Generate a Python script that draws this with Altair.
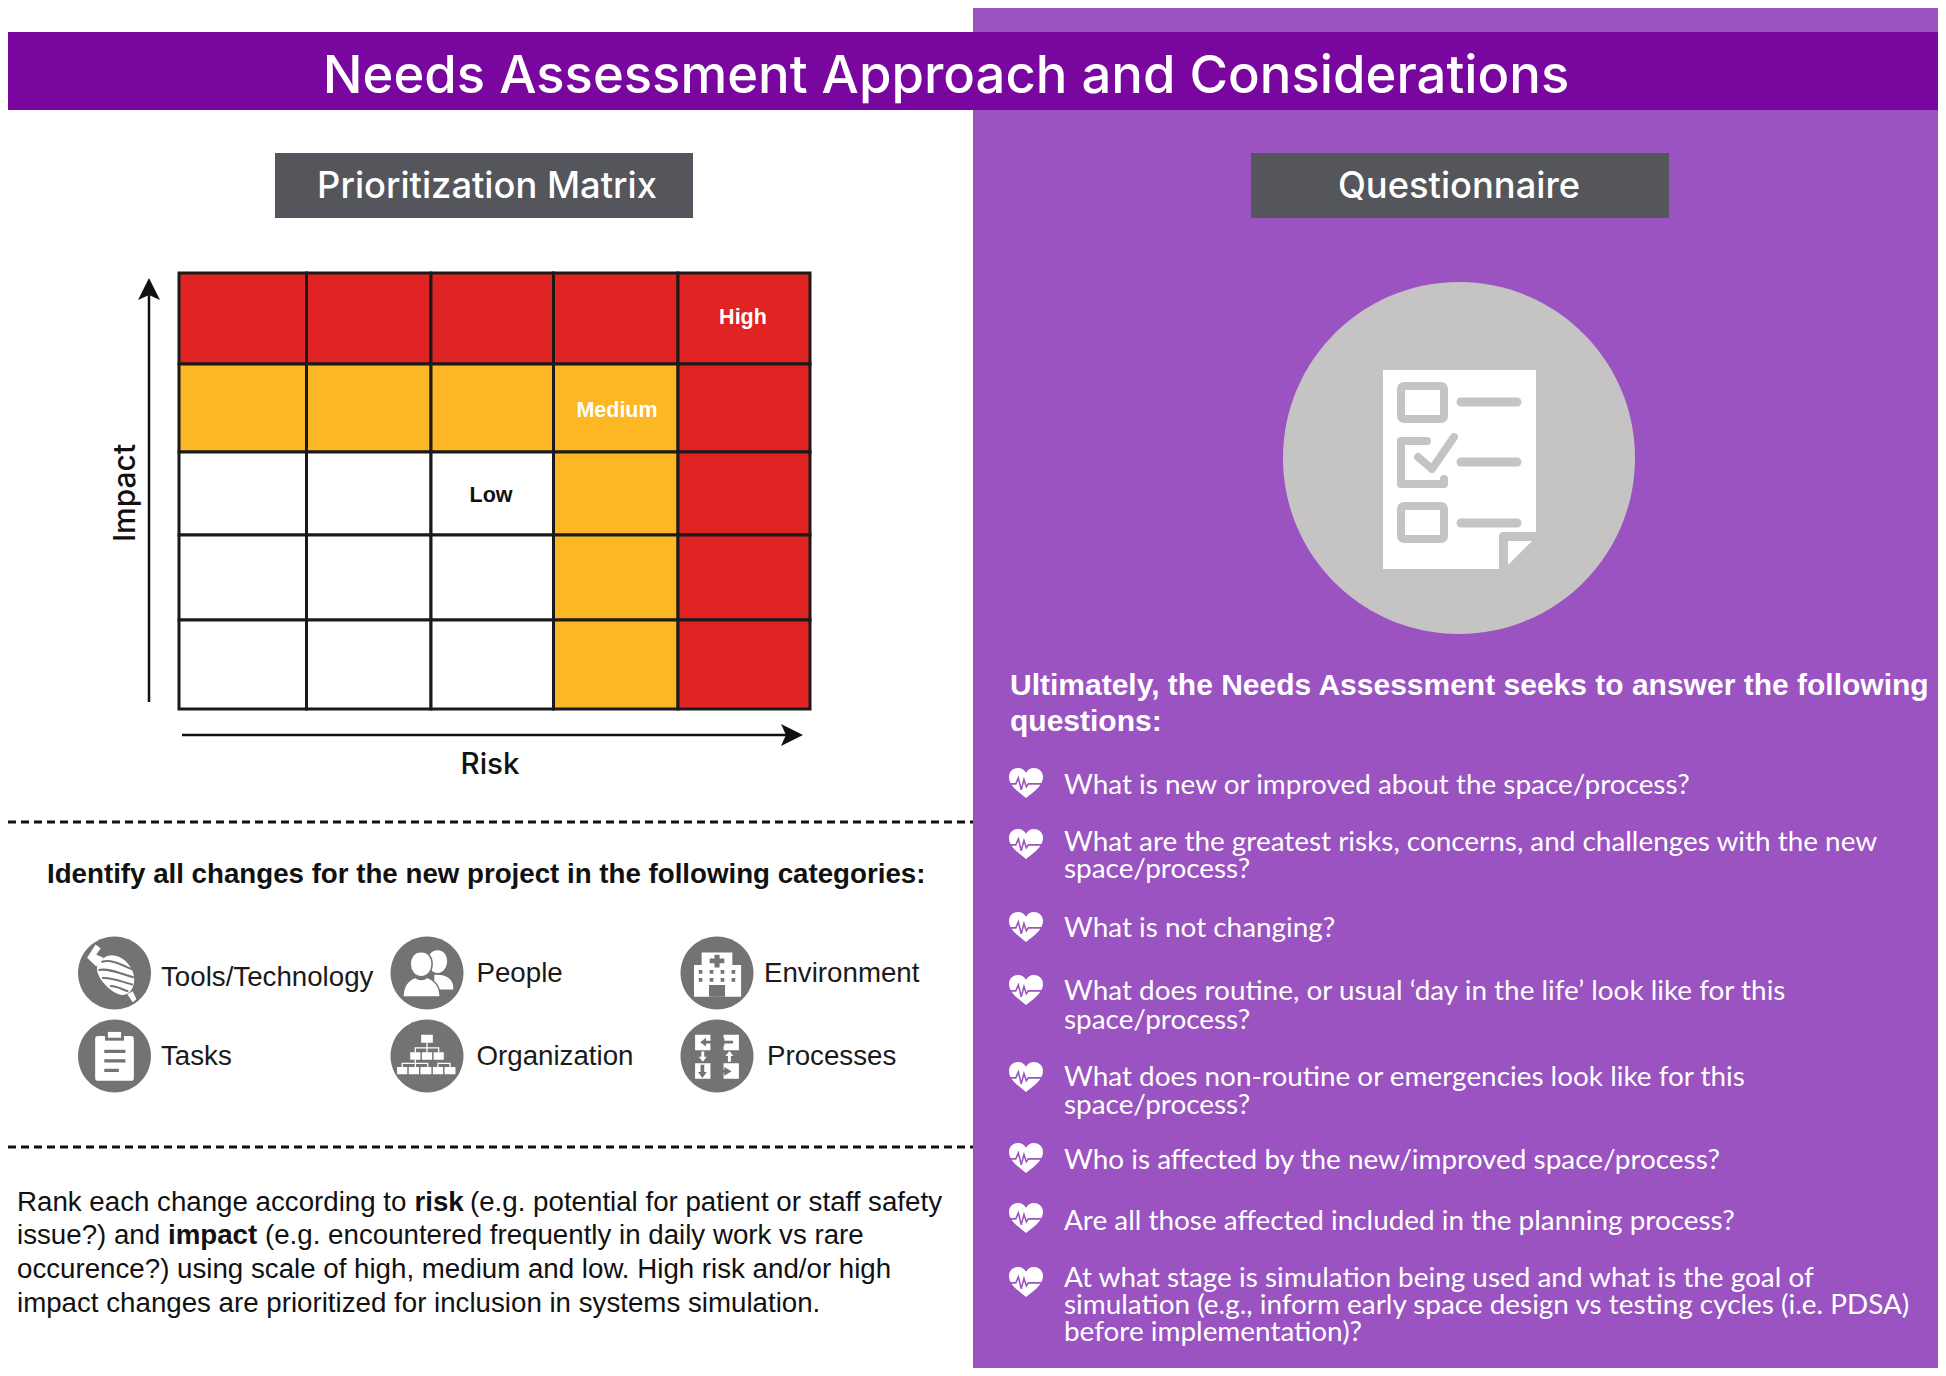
import altair as alt
import pandas as pd

# ---------- content ----------
TITLE = "Needs Assessment Approach and Considerations"
HEAD_L = "Prioritization Matrix"
HEAD_R = "Questionnaire"
LEVELS = ["Low", "Medium", "High"]
LEVEL_COLORS = ["#ffffff", "#fdb624", "#e02424"]
MATRIX = [
    ["High", "High", "High", "High", "High"],
    ["Medium", "Medium", "Medium", "Medium", "High"],
    ["Low", "Low", "Low", "Medium", "High"],
    ["Low", "Low", "Low", "Medium", "High"],
    ["Low", "Low", "Low", "Medium", "High"],
]
COL_EDGES = [179, 306.5, 431, 553.5, 678, 810]
ROW_EDGES = [273, 364, 452, 535, 620, 709]
CATEGORY_HEAD = "Identify all changes for the new project in the following categories:"
CATEGORIES = [("Tools/Technology", 161, 975), ("People", 476.5, 971), ("Environment", 764, 971),
              ("Tasks", 161, 1054), ("Organization", 476.5, 1054), ("Processes", 767, 1054)]
Q_HEAD = ["Ultimately, the Needs Assessment seeks to answer the following", "questions:"]
QUESTIONS = [
    (783, ["What is new or improved about the space/process?"], [783]),
    (844, ["What are the greatest risks, concerns, and challenges with the new", "space/process?"], [840, 867]),
    (927, ["What is not changing?"], [926]),
    (990, ["What does routine, or usual \u2018day in the life\u2019 look like for this", "space/process?"], [989, 1018]),
    (1077, ["What does non-routine or emergencies look like for this", "space/process?"], [1075, 1103]),
    (1158, ["Who is affected by the new/improved space/process?"], [1158]),
    (1218, ["Are all those affected included in the planning process?"], [1219]),
    (1282, ["At what stage is simulation being used and what is the goal of",
            "simulation (e.g., inform early space design vs testing cycles (i.e. PDSA)",
            "before implementation)?"], [1276, 1303, 1330]),
]
PARA = [
    ("Rank each change according to ", 17, 1200, "normal"), ("risk", 414.5, 1200, "bold"),
    ("(e.g. potential for patient or staff safety", 470, 1200, "normal"),
    ("issue?) and ", 17, 1233.5, "normal"), ("impact", 168, 1233.5, "bold"),
    ("(e.g. encountered frequently in daily work vs rare", 265, 1233.5, "normal"),
    ("occurence?) using scale of high, medium and low. High risk and/or high", 17, 1267, "normal"),
    ("impact changes are prioritized for inclusion in systems simulation.", 17, 1301, "normal"),
]

# ---------- palette ----------
PANEL = "#9a53c1"
BAND = "#7a06a0"
SLATE = "#55565b"
ICON = "#737373"
DISC = "#c6c3c4"
SANS = "Liberation Sans"
HEADF = "Inter"
QF = "Lato"

RIGHT = 1938
BOTTOM = 1368
SX = alt.Scale(domain=[8, RIGHT], range=[0, RIGHT - 8], nice=False, zero=False)
SY = alt.Scale(domain=[8, BOTTOM], range=[0, BOTTOM - 8], nice=False, zero=False)
X = lambda f="x": alt.X(f"{f}:Q", scale=SX, axis=None)
Y = lambda f="y": alt.Y(f"{f}:Q", scale=SY, axis=None)
layers = []


def rect(x0, y0, x1, y1, fill="#ffffff", **kw):
    d = pd.DataFrame({"x": [x0], "x2": [x1], "y": [y0], "y2": [y1]})
    layers.append(alt.Chart(d).mark_rect(fill=fill, **kw).encode(
        x=X(), x2="x2:Q", y=Y(), y2="y2:Q"))


def line(pts, color, width, cap="butt", **kw):
    d = pd.DataFrame({"x": [p[0] for p in pts], "y": [p[1] for p in pts], "o": range(len(pts))})
    layers.append(alt.Chart(d).mark_line(color=color, strokeWidth=width, strokeCap=cap, **kw).encode(
        x=X(), y=Y(), order="o:O"))


def glyph(path, cx, cy, d, fill=None, stroke=None, sw=0):
    frame = pd.DataFrame({"x": [cx], "y": [cy]})
    kw = dict(shape=path, size=d * d, opacity=1, strokeWidth=sw)
    kw["filled"] = fill is not None
    if fill is not None:
        kw["fill"] = fill
    if stroke is not None:
        kw["stroke"] = stroke
    layers.append(alt.Chart(frame).mark_point(**kw).encode(x=X(), y=Y()))


def text(rows, font, size, color, weight="normal", align="left", angle=0):
    d = pd.DataFrame(rows, columns=["t", "x", "y"])
    kw = dict(angle=angle) if angle else {"dy": 2.5}
    layers.append(alt.Chart(d).mark_text(font=font, fontSize=size, color=color, fontWeight=weight,
                                         align=align, baseline="middle", **kw).encode(
        x=X(), y=Y(), text="t:N"))


CIRCLE = "M-1,0 A1,1 0 1,1 1,0 A1,1 0 1,1 -1,0 Z"

# ---------- panels ----------
rect(973, 8, RIGHT, BOTTOM, PANEL)
rect(8, 32, RIGHT, 110, BAND)
text([(TITLE, 946, 74)], HEADF, 52.6, "#ffffff", weight=500, align="center")
rect(275, 153, 693, 218, SLATE)
rect(1251, 153, 1669, 218, SLATE)
text([(HEAD_L, 487, 184), (HEAD_R, 1459, 184)], HEADF, 36.3, "#ffffff", weight=500, align="center")

# ---------- matrix ----------
cells = []
for r, row in enumerate(MATRIX):
    for c, lev in enumerate(row):
        cells.append({"x": COL_EDGES[c], "x2": COL_EDGES[c + 1], "y": ROW_EDGES[r], "y2": ROW_EDGES[r + 1], "level": lev})
layers.append(alt.Chart(pd.DataFrame(cells)).mark_rect(stroke="#1a1a1a", strokeWidth=3).encode(
    x=X(), x2="x2:Q", y=Y(), y2="y2:Q",
    fill=alt.Fill("level:N", scale=alt.Scale(domain=LEVELS, range=LEVEL_COLORS), legend=None)))
text([("High", 743, 315), ("Medium", 617, 408)], SANS, 21.5, "#ffffff", weight="bold", align="center")
text([("Low", 491, 493)], SANS, 21.5, "#111111", weight="bold", align="center")
line([(149, 702), (149, 290)], "#111111", 2.5)
glyph("M0,-1 L1,1 L0,0.55 L-1,1 Z", 149, 289, 22, fill="#111111")
line([(182, 735), (790, 735)], "#111111", 2.5)
glyph("M1,0 L-1,-1 L-0.55,0 L-1,1 Z", 792, 735, 22, fill="#111111")
text([("Impact", 126, 493)], HEADF, 30, "#111111", weight=500, align="center", angle=270)
text([("Risk", 490, 762)], HEADF, 29.5, "#111111", weight=500, align="center")

# ---------- dashed separators ----------
for yy in (822, 1147):
    line([(8, yy), (973, yy)], "#111111", 3, strokeDash=[8, 5])

# ---------- categories ----------
text([(CATEGORY_HEAD, 47, 872)], SANS, 27.7, "#111111", weight="bold")
text([(c[0], c[1], c[2]) for c in CATEGORIES], SANS, 27.7, "#1a1a1a")
for cx in (114.5, 427, 717):
    for cy in (973, 1056):
        glyph(CIRCLE, cx, cy, 73, fill=ICON)

D = 73  # icon frame
# tools
glyph("M-0.28,-0.42 C0.02,-0.62 0.42,-0.32 0.52,0.02 C0.6,0.36 0.42,0.62 0.2,0.6 C-0.1,0.56 -0.5,0.12 -0.48,-0.14 C-0.48,-0.26 -0.38,-0.36 -0.28,-0.42 Z", 114.5, 973, D, fill="#ffffff")
glyph("M-0.75,-0.42 L-0.52,-0.78 L-0.38,-0.68 L-0.5,-0.5 L-0.3,-0.42 L-0.5,-0.18 Z M0.35,0.58 L0.5,0.5 L0.6,0.72 L0.5,0.8 Z", 114.5, 973, D, fill="#ffffff")
glyph("M-0.36,-0.3 C-0.1,-0.4 0.25,-0.2 0.48,-0.1 M-0.44,-0.08 C-0.15,-0.15 0.25,0.05 0.53,0.12 M-0.34,0.14 C-0.1,0.1 0.2,0.25 0.5,0.32 M-0.12,0.36 C0.05,0.35 0.2,0.45 0.38,0.5", 114.5, 973, D, stroke=ICON, sw=2)
# people
glyph("M0.29,-0.62 C0.47,-0.62 0.55,-0.48 0.55,-0.32 C0.55,-0.16 0.45,0 0.29,0 C0.13,0 0.03,-0.16 0.03,-0.32 C0.03,-0.48 0.11,-0.62 0.29,-0.62 Z M0.2,0.05 C0.5,0.03 0.72,0.15 0.72,0.4 L0.72,0.45 L0.2,0.45 Z", 427, 973, D, fill="#ffffff")
glyph("M-0.16,-0.58 C0.05,-0.58 0.14,-0.42 0.14,-0.24 C0.14,-0.06 0.02,0.1 -0.16,0.1 C-0.34,0.1 -0.46,-0.06 -0.46,-0.24 C-0.46,-0.42 -0.37,-0.58 -0.16,-0.58 Z M-0.32,0.12 C-0.2,0.2 -0.1,0.2 0,0.12 C0.22,0.2 0.36,0.35 0.36,0.66 L-0.66,0.66 C-0.66,0.35 -0.54,0.2 -0.32,0.12 Z", 427, 973, D, fill="#ffffff", stroke=ICON, sw=1.5)
# hospital
glyph("M-0.42,-0.56 L0.42,-0.56 L0.42,-0.22 L0.66,-0.22 L0.66,0.65 L-0.63,0.65 L-0.63,-0.22 L-0.42,-0.22 Z", 717, 973, D, fill="#ffffff")
glyph("M-0.07,-0.5 L0.07,-0.5 L0.07,-0.4 L0.2,-0.4 L0.2,-0.27 L0.07,-0.27 L0.07,-0.15 L-0.07,-0.15 L-0.07,-0.27 L-0.2,-0.27 L-0.2,-0.4 L-0.07,-0.4 Z "
      "M-0.22,0.33 L0.22,0.33 L0.22,0.65 L-0.22,0.65 Z "
      "M-0.5,-0.08 h0.1 v0.1 h-0.1 Z M-0.2,-0.08 h0.1 v0.1 h-0.1 Z M0.1,-0.08 h0.1 v0.1 h-0.1 Z M0.4,-0.08 h0.1 v0.1 h-0.1 Z "
      "M-0.5,0.14 h0.1 v0.1 h-0.1 Z M-0.2,0.14 h0.1 v0.1 h-0.1 Z M0.1,0.14 h0.1 v0.1 h-0.1 Z M0.4,0.14 h0.1 v0.1 h-0.1 Z", 717, 973, D, fill=ICON)
# clipboard
glyph("M-0.45,-0.55 L0.45,-0.55 Q0.53,-0.55 0.53,-0.47 L0.53,0.6 Q0.53,0.68 0.45,0.68 L-0.45,0.68 Q-0.53,0.68 -0.53,0.6 L-0.53,-0.47 Q-0.53,-0.55 -0.45,-0.55 Z", 114.5, 1056, D, fill="#ffffff")
glyph("M-0.26,-0.72 L0.26,-0.72 L0.26,-0.42 L-0.26,-0.42 Z", 114.5, 1056, D, fill=ICON)
glyph("M-0.18,-0.66 L0.18,-0.66 L0.18,-0.5 L-0.18,-0.5 Z", 114.5, 1056, D, fill="#ffffff")
glyph("M-0.28,-0.17 h0.58 v0.09 h-0.58 Z M-0.28,0.09 h0.58 v0.09 h-0.58 Z M-0.28,0.35 h0.4 v0.09 h-0.4 Z", 114.5, 1056, D, fill=ICON)
# organisation
glyph("M-0.16,-0.58 h0.32 v0.22 h-0.32 Z "
      "M-0.46,-0.1 h0.28 v0.2 h-0.28 Z M-0.14,-0.1 h0.28 v0.2 h-0.28 Z M0.18,-0.1 h0.28 v0.2 h-0.28 Z "
      "M-0.82,0.3 h0.28 v0.2 h-0.28 Z M-0.5,0.3 h0.28 v0.2 h-0.28 Z M-0.18,0.3 h0.3 v0.2 h-0.3 Z M0.16,0.3 h0.28 v0.2 h-0.28 Z M0.48,0.3 h0.3 v0.2 h-0.3 Z", 427, 1056, D, fill="#ffffff")
glyph("M0,-0.36 L0,-0.1 M-0.32,-0.1 L-0.32,-0.22 L0.32,-0.22 L0.32,-0.1 M-0.32,0.1 L-0.32,0.3 M-0.68,0.3 L-0.68,0.2 L0.02,0.2 L0.02,0.3 M0.3,0.3 L0.3,0.2 L0.63,0.2 L0.63,0.3", 427, 1056, D, stroke="#ffffff", sw=1.3)
# processes
glyph("M-0.6,-0.58 h0.42 v0.42 h-0.42 Z M0.18,-0.58 h0.42 v0.42 h-0.42 Z M-0.6,0.2 h0.42 v0.42 h-0.42 Z M0.18,0.2 h0.42 v0.42 h-0.42 Z", 717, 1056, D, fill="#ffffff")
glyph("M-0.02,-0.42 L-0.3,-0.42 L-0.3,-0.5 L-0.46,-0.38 L-0.3,-0.26 L-0.3,-0.34 L-0.02,-0.34 Z M0.44,-0.42 L0.2,-0.42 L0.2,-0.5 L0.04,-0.38 L0.2,-0.26 L0.2,-0.34 L0.44,-0.34 Z "
      "M-0.02,0.38 L0.2,0.38 L0.2,0.3 L0.4,0.42 L0.2,0.54 L0.2,0.46 L-0.02,0.46 Z M-0.45,0.24 L-0.35,0.24 L-0.35,0.44 L-0.28,0.44 L-0.4,0.6 L-0.52,0.44 L-0.45,0.44 Z", 717, 1056, D, fill=ICON)
glyph("M-0.43,-0.12 L-0.35,-0.12 L-0.35,0.02 L-0.28,0.02 L-0.39,0.16 L-0.5,0.02 L-0.43,0.02 Z M0.3,0.16 L0.38,0.16 L0.38,0.0 L0.45,0.0 L0.34,-0.14 L0.23,0.0 L0.3,0.0 Z", 717, 1056, D, fill="#ffffff")

# ---------- paragraph ----------
for wt in ("normal", "bold"):
    text([(p[0], p[1], p[2]) for p in PARA if p[3] == wt], SANS, 27.7, "#111111", weight=wt)

# ---------- questionnaire picture ----------
glyph(CIRCLE, 1459, 458, 352, fill=DISC)
rect(1383, 370, 1536, 569, "#ffffff")
rect(1499, 532, 1537, 570, DISC, cornerRadiusTopLeft=4)
glyph("M-1,-1 L1,-1 L-1,1 Z", 1520, 553, 24, fill="#ffffff")
for y0, y1 in ((386, 419), (506, 539)):
    rect(1401, y0, 1444, y1, "#ffffff", stroke=DISC, strokeWidth=8, cornerRadius=3)
line([(1427, 441), (1401, 441), (1401, 484), (1444, 484), (1444, 479)], DISC, 8, cap="round", strokeJoin="round")
line([(1418, 457), (1432, 469), (1454, 437)], DISC, 8, cap="round", strokeJoin="round")
for yy in (402, 462, 523):
    line([(1461, yy), (1517, yy)], DISC, 9, cap="round")

# ---------- questions ----------
text([(Q_HEAD[0], 1010, 683), (Q_HEAD[1], 1010, 719)], SANS, 30, "#ffffff", weight="bold")
HEART = "M0,0.88 C-0.3,0.62 -1,0.22 -1,-0.35 C-1,-0.72 -0.72,-0.88 -0.46,-0.88 C-0.26,-0.88 -0.1,-0.78 0,-0.6 C0.1,-0.78 0.26,-0.88 0.46,-0.88 C0.72,-0.88 1,-0.72 1,-0.35 C1,0.22 0.3,0.62 0,0.88 Z"
PULSE = "M-1,0.05 L-0.6,0.05 L-0.45,-0.3 L-0.28,0.4 L-0.12,-0.2 L0.02,0.22 L0.14,0.05 L1,0.05"
for hy, lines, ys in QUESTIONS:
    glyph(HEART, 1026, hy, 34, fill="#ffffff")
    glyph(PULSE, 1026, hy, 34, stroke=PANEL, sw=1.6)
q_rows = [(t, 1064, y) for _, ls, ys in QUESTIONS for t, y in zip(ls, ys)]
text(q_rows, QF, 27.9, "#ffffff")

chart = alt.layer(*layers).properties(
    width=RIGHT - 8, height=BOTTOM - 8, padding=0, background="#ffffff",
    autosize=alt.AutoSizeParams(type="none", contains="padding"),
).configure_view(strokeWidth=0)
chart.save("out.html", embed_options={"renderer": "svg", "actions": False})
